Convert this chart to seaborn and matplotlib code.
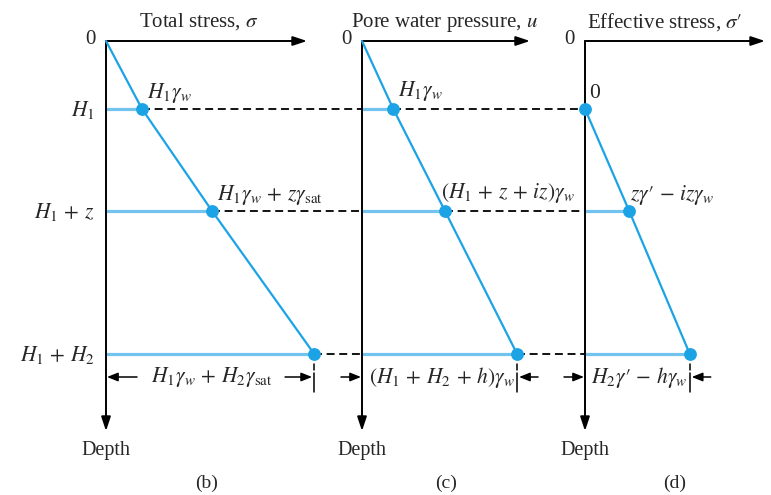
import numpy as np
import pandas as pd
import matplotlib.pyplot as plt
import seaborn as sns

# --- data (depth measured downward, in units of H1) ---
depth = [0.0, 1.0, 2.5, 4.6]
depth_labels = ["0", r"$H_1$", r"$H_1\,+\,z$", r"$H_1\,+\,H_2$"]

total_stress = [0.0, 0.53, 1.56, 3.06]
pore_pressure = [0.0, 0.46, 1.22, 2.28]
eff_depth = [1.0, 2.5, 4.6]
eff_stress = [0.0, 0.65, 1.54]

titles = ["Total stress, $\u03c3$", "Pore water pressure, $u$",
          "Effective stress, $\u03c3\u2032$"]
panel_tags = ["(b)", "(c)", "(d)"]

labels_b = [r"$H_1\gamma_w$", r"$H_1\gamma_w\,+\,z\gamma_{\mathrm{sat}}$"]
labels_c = [r"$H_1\gamma_w$", r"$(H_1\,+\,z\,+\,iz)\gamma_w$"]
labels_d = ["0", "$z\u03b3\u2032\\,-\\,iz\\gamma_w$"]
dim_labels = [r"$H_1\gamma_w\,+\,H_2\gamma_{\mathrm{sat}}$",
              r"$(H_1\,+\,H_2\,+\,h)\gamma_w$",
              "$H_2\u03b3\u2032\\,-\\,h\\gamma_w$"]

# --- layout ---
S = 68.0                      # pixels per unit
px = lambda p: p / S          # pixel distance -> data units
X0 = [px(106), px(362), px(585)]          # panel origins
AX_LEN = [px(201), px(168), px(180)]      # horizontal axis lengths
DEPTH_END = px(390)

BLUE = "#1ba3e6"
LIGHT = "#72c4ee"
FS = 15
FM = 15.5

sns.set_theme(style="white")
plt.rcParams["font.family"] = ["Liberation Serif", "DejaVu Serif"]
plt.rcParams["mathtext.fontset"] = "stix"

fig = plt.figure(figsize=(7.71, 4.95), dpi=100)
ax = fig.add_axes([0, 0, 1, 1])
ax.set_xlim(-px(106), px(771 - 106))
ax.set_ylim(px(495 - 41), -px(41))
ax.axis("off")

panels = [
    (depth, total_stress),
    (depth, pore_pressure),
    (eff_depth, eff_stress),
]

arrow_kw = dict(arrowstyle="-|>,head_length=0.6,head_width=0.2", color="black",
                lw=1.4, shrinkA=0, shrinkB=0, mutation_scale=14)

for i, (d, v) in enumerate(panels):
    x0 = X0[i] - X0[0]
    df = pd.DataFrame({"x": np.array(v) + x0, "depth": d})

    # axes
    ax.annotate("", xy=(x0 + AX_LEN[i], 0), xytext=(x0, 0), arrowprops=arrow_kw)
    ax.annotate("", xy=(x0, DEPTH_END), xytext=(x0, 0), arrowprops=arrow_kw)
    ax.text(x0 - px(10), -px(2), "0", ha="right", va="center", fontsize=FS)
    ax.text(x0, px(409), "Depth", ha="center", va="center", fontsize=FS - 0.5)
    ax.text(x0 + AX_LEN[i] / 2, px(442), panel_tags[i], ha="center",
            va="center", fontsize=FS - 1)
    title_dx = [93, 82, 80][i]
    ax.text(x0 + px(title_dx), -px(19), titles[i], ha="center", va="center",
            fontsize=FS)

    # blue horizontals from the axis to each point
    for xv, dv in zip(df["x"], df["depth"]):
        if dv > 0 and xv > x0:
            ax.plot([x0, xv], [dv, dv], color=LIGHT, lw=2.3, zorder=2,
                    solid_capstyle="butt")

    # stress profile
    sns.lineplot(data=df, x="x", y="depth", sort=False, estimator=None,
                 color=BLUE, lw=1.6, ax=ax, zorder=3)
    pts = df[df["depth"] > 0]
    sns.scatterplot(data=pts, x="x", y="depth", color=BLUE, s=85,
                    linewidth=0, ax=ax, zorder=5)

    # dashed projection to the next panel
    if i < 2:
        nx = X0[i + 1] - X0[0]
        for xv, dv in zip(pts["x"], pts["depth"]):
            ax.plot([xv, nx], [dv, dv], color="black", lw=1.3,
                    ls=(0, (4.4, 2.6)), zorder=1)

    # dimension line under the last point
    end = pts["x"].iloc[-1]
    yd = px(377 - 41)
    ax.plot([end, end], [px(364 - 41), px(370 - 41)], color="black", lw=1.1)
    ax.plot([end, end], [px(373 - 41), px(392 - 41)], color="black", lw=1.1)
    small = dict(arrowstyle="-|>,head_length=0.5,head_width=0.2",
                 color="black", lw=1.1, shrinkA=0, shrinkB=0, mutation_scale=13)
    if i == 0:
        ax.annotate("", xy=(x0 + px(1), yd), xytext=(x0 + px(31), yd),
                    arrowprops=small)
        ax.annotate("", xy=(end - px(2), yd), xytext=(end - px(29), yd),
                    arrowprops=small)
        ax.text(x0 + px(106), yd, dim_labels[i], ha="center", va="center",
                fontsize=FM)
    else:
        ax.annotate("", xy=(x0 - px(1), yd), xytext=(x0 - px(21), yd),
                    arrowprops=small)
        ax.annotate("", xy=(end + px(2), yd), xytext=(end + px(21), yd),
                    arrowprops=small)
        ax.text((x0 + end) / 2 + px(2), yd, dim_labels[i], ha="center",
                va="center", fontsize=FM)

# point labels
xb = X0[0] - X0[0]
xc = X0[1] - X0[0]
xd = X0[2] - X0[0]
for lab, xv, dv in zip(labels_b, total_stress[1:3], depth[1:3]):
    ax.text(xb + xv + px(5), dv - px(16), lab, ha="left", va="center",
            fontsize=FM)
for lab, xv, dv, dx in zip(labels_c, pore_pressure[1:3], depth[1:3], [5, -4]):
    ax.text(xc + xv + px(dx), dv - px(18), lab, ha="left", va="center",
            fontsize=FM)
for lab, xv, dv, dx in zip(labels_d, eff_stress[0:2], eff_depth[0:2], [4, 1]):
    ax.text(xd + xv + px(dx), dv - px(16), lab, ha="left", va="center",
            fontsize=FM)

# depth level labels on the left
for lab, dv in zip(depth_labels[1:], depth[1:]):
    ax.text(-px(11), dv + px(1), lab, ha="right", va="center", fontsize=FM)

ax.set_xlabel("")
ax.set_ylabel("")
fig.savefig("out.png", dpi=100)
